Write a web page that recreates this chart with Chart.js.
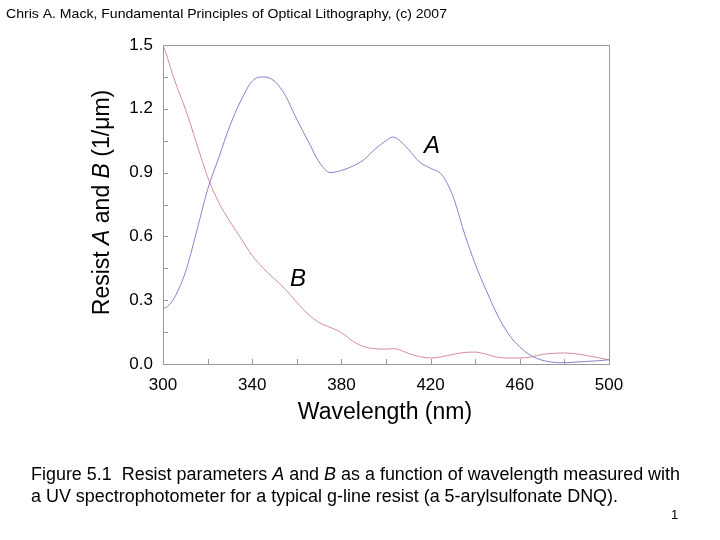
<!DOCTYPE html>
<html>
<head>
<meta charset="utf-8">
<script src="https://cdn.jsdelivr.net/npm/chart.js@4/dist/chart.umd.min.js"></script>
<style>
  html, body { margin: 0; padding: 0; background: #ffffff; }
  #wrap { width: 720px; height: 540px; position: relative; }
</style>
</head>
<body>
<div id="wrap"><canvas id="c" width="720" height="540"></canvas></div>
<script>
// ---- data ----
const wavelengths = [300,302,305,310,315,320,325,330,335,340,345,350,355,360,365,370,375,380,385,390,395,400,403,405,410,415,420,425,430,435,440,445,450,455,460,465,470,475,480,485,490,495,500];
const resistA     = [0.26,0.27,0.31,0.43,0.62,0.82,0.97,1.12,1.24,1.33,1.35,1.33,1.26,1.15,1.05,0.95,0.90,0.91,0.93,0.96,1.01,1.05,1.067,1.06,1.01,0.95,0.92,0.89,0.79,0.62,0.47,0.345,0.23,0.14,0.08,0.04,0.018,0.008,0.006,0.009,0.012,0.015,0.02];
const resistB     = [1.50,1.44,1.34,1.20,1.04,0.88,0.76,0.67,0.59,0.51,0.45,0.40,0.35,0.29,0.235,0.195,0.172,0.148,0.108,0.082,0.072,0.07,0.072,0.07,0.05,0.035,0.028,0.034,0.045,0.054,0.056,0.046,0.032,0.028,0.028,0.033,0.045,0.05,0.052,0.048,0.04,0.03,0.02];
const xTickLabels = [300,340,380,420,460,500];
const yTickLabels = [0.0,0.3,0.6,0.9,1.2,1.5];
const curveLabels = [{text:'A', x:420.6, y:1.025},{text:'B', x:360.5, y:0.40}];

const FONT = '"Liberation Sans", Arial, Helvetica, sans-serif';
const axisGray = '#9a9a9a';

function drawRich(ctx, segs, x, y, size, targetWidth) {
  let total = 0;
  segs.forEach(s => { ctx.font = (s.italic ? 'italic ' : '') + size + 'px ' + FONT; total += ctx.measureText(s.t).width; });
  const sc = targetWidth ? targetWidth / total : 1;
  ctx.save();
  ctx.translate(x, y);
  ctx.scale(sc, 1);
  let cx = 0;
  segs.forEach(s => {
    ctx.font = (s.italic ? 'italic ' : '') + size + 'px ' + FONT;
    ctx.fillText(s.t, cx, 0);
    cx += ctx.measureText(s.t).width;
  });
  ctx.restore();
}

const decor = {
  id: 'decor',
  beforeDraw(chart) {
    const ctx = chart.ctx;
    ctx.save();
    ctx.fillStyle = '#ffffff';
    ctx.fillRect(0, 0, chart.width, chart.height);
    ctx.restore();
  },
  afterDraw(chart) {
    const ctx = chart.ctx;
    const a = chart.chartArea;
    const xs = chart.scales.x, ys = chart.scales.y;
    ctx.save();
    // frame
    ctx.strokeStyle = axisGray;
    ctx.lineWidth = 1;
    ctx.strokeRect(Math.round(a.left) + 0.5, Math.round(a.top) + 0.5, Math.round(a.right - a.left), Math.round(a.bottom - a.top));
    // inward ticks
    ctx.beginPath();
    xs.ticks.forEach(t => {
      const px = Math.round(xs.getPixelForValue(t.value)) + 0.5;
      ctx.moveTo(px, a.bottom); ctx.lineTo(px, a.bottom - 5);
    });
    ys.ticks.forEach(t => {
      const py = Math.round(ys.getPixelForValue(t.value)) + 0.5;
      ctx.moveTo(a.left, py); ctx.lineTo(a.left + 5, py);
    });
    ctx.stroke();

    ctx.fillStyle = '#000000';
    // curve labels
    ctx.font = 'italic 24px ' + FONT;
    ctx.textAlign = 'center';
    ctx.textBaseline = 'middle';
    curveLabels.forEach(l => ctx.fillText(l.text, xs.getPixelForValue(l.x), ys.getPixelForValue(l.y)));

    // x axis title
    ctx.font = '23px ' + FONT;
    ctx.fillText('Wavelength (nm)', (a.left + a.right) / 2 - 1, a.bottom + 49);

    // y axis title (rotated, mixed italic)
    ctx.save();
    ctx.translate(103, (a.top + a.bottom) / 2 - 2);
    ctx.rotate(-Math.PI / 2);
    const segs = [{t:'Resist '},{t:'A', italic:true},{t:' and '},{t:'B', italic:true},{t:' (1/\u03bcm)'}];
    let tw = 0;
    segs.forEach(s => { ctx.font = (s.italic ? 'italic ' : '') + '23px ' + FONT; tw += ctx.measureText(s.t).width; });
    ctx.textAlign = 'left';
    ctx.textBaseline = 'middle';
    drawRich(ctx, segs, -tw / 2, 0, 23, 0);
    ctx.restore();

    // header
    ctx.textAlign = 'left';
    ctx.textBaseline = 'alphabetic';
    ctx.font = '13px ' + FONT;
    drawRich(ctx, [{t:'Chris A. Mack, Fundamental Principles of Optical Lithography, (c) 2007'}], 6, 18, 13, 441);

    // caption
    drawRich(ctx, [{t:'Figure 5.1  Resist parameters '},{t:'A', italic:true},{t:' and '},{t:'B', italic:true},{t:' as a function of wavelength measured with'}], 31, 480, 17.5, 649);
    drawRich(ctx, [{t:'a UV spectrophotometer for a typical g-line resist (a 5-arylsulfonate DNQ).'}], 31, 502, 17.5, 587);

    // page number
    ctx.font = '13px ' + FONT;
    ctx.fillText('1', 671, 519);
    ctx.restore();
  }
};

const toPts = arr => wavelengths.map((w, i) => ({ x: w, y: arr[i] }));

new Chart(document.getElementById('c'), {
  type: 'line',
  data: {
    datasets: [
      { label: 'A', data: toPts(resistA), borderColor: '#8484cc', borderWidth: 1, pointRadius: 0, cubicInterpolationMode: 'monotone', fill: false },
      { label: 'B', data: toPts(resistB), borderColor: '#d48e98', borderWidth: 1, pointRadius: 0, cubicInterpolationMode: 'monotone', fill: false }
    ]
  },
  options: {
    responsive: false,
    animation: false,
    devicePixelRatio: 1,
    layout: { padding: { left: 0, top: 45, right: 111, bottom: 0 } },
    plugins: { legend: { display: false }, tooltip: { enabled: false }, title: { display: false } },
    scales: {
      x: {
        type: 'linear', min: 300, max: 500,
        grid: { drawOnChartArea: false, drawTicks: false },
        border: { display: false },
        ticks: {
          stepSize: 20, autoSkip: false, maxRotation: 0, padding: 11,
          color: '#000', font: { family: FONT, size: 17 },
          callback: v => xTickLabels.includes(Math.round(v)) ? String(Math.round(v)) : ''
        },
        afterFit: s => { s.height = 176; }
      },
      y: {
        type: 'linear', min: 0, max: 1.5,
        grid: { drawOnChartArea: false, drawTicks: false },
        border: { display: false },
        ticks: {
          stepSize: 0.15, autoSkip: false, padding: 10,
          color: '#000', font: { family: FONT, size: 17 },
          callback: v => {
            const r = Math.round(v * 100) / 100;
            return yTickLabels.some(t => Math.abs(t - r) < 1e-6) ? r.toFixed(1) : '';
          }
        },
        afterFit: s => { s.width = 163; }
      }
    }
  },
  plugins: [decor]
});
</script>
</body>
</html>
